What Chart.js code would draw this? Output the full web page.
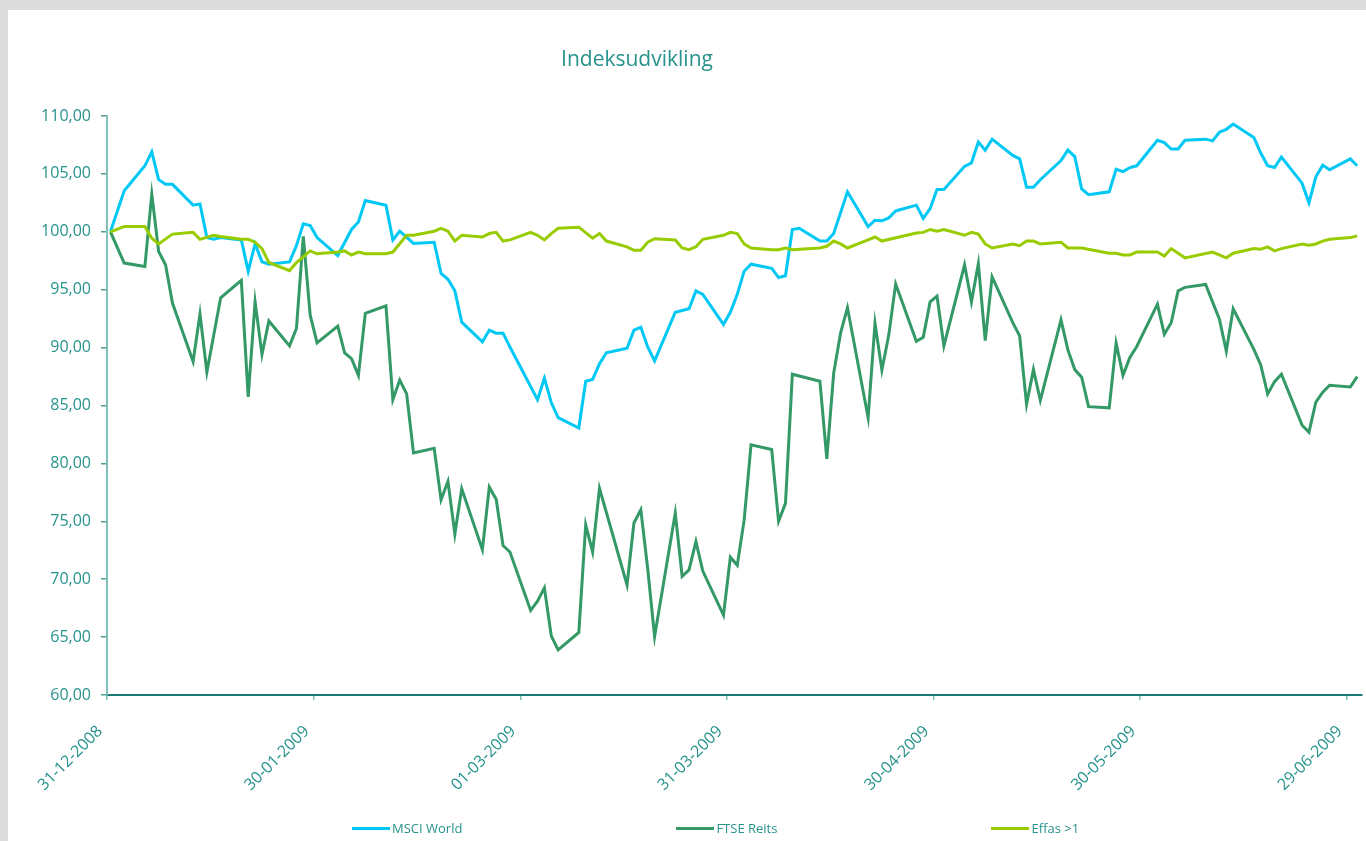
<!DOCTYPE html>
<html lang="da">
<head>
<meta charset="utf-8">
<title>Indeksudvikling</title>
<script src="https://cdn.jsdelivr.net/npm/chart.js@4.4.0/dist/chart.umd.min.js"></script>
<style>
  html, body { margin: 0; padding: 0; background: #dcdcdc; overflow: hidden; }
  #wrap { position: absolute; left: 8px; top: 10px; width: 1358px; height: 831px; background: #fff; }
  #graf { position: absolute; left: 0; top: 0; }
  #titel { position: absolute; left: 429px; top: 34px; width: 400px; text-align: center;
           font: 21px/28px "Open Sans", sans-serif; color: #26928c; }
  #legend { position: absolute; left: 344px; top: 809px; display: flex; gap: 214px;
            font: 13px "Open Sans", sans-serif; color: #26928c; }
  #legend .item { display: flex; align-items: center; white-space: nowrap; }
  #legend .line { display: inline-block; width: 38px; height: 3px; margin-right: 2px; }
</style>
</head>
<body>
<div id="wrap">
  <canvas id="graf" width="1358" height="831"></canvas>
  <div id="titel">Indeksudvikling</div>
  <div id="legend"></div>
</div>
<script>
// dage efter 31-12-2008
const tickDays = [0, 30, 60, 90, 120, 150, 180];
const tickLabels = ["31-12-2008", "30-01-2009", "01-03-2009", "31-03-2009", "30-04-2009", "30-05-2009", "29-06-2009"];

const serieNavne = ["MSCI World", "FTSE Reits", "Effas >1"];

const msciDays = [0,2,5,6,7,8,9,12,13,14,15,16,19,20,21,22,23,26,27,28,29,30,33,35,36,37,40,41,42,44,47,48,49,50,51,54,55,56,57,58,62,63,64,65,68,69,70,71,72,75,76,77,78,79,82,84,85,86,89,90,91,92,93,96,97,98,99,100,103,104,105,107,110,111,112,113,114,117,118,119,120,121,124,125,126,127,128,131,132,133,134,135,138,139,140,141,142,145,146,147,148,149,152,153,154,155,156,159,160,161,162,163,166,167,168,169,170,173,174,175,176,177,180,181];
const msciValues = [100,103.55,105.7,106.9,104.5,104.1,104.1,102.3,102.4,99.5,99.35,99.5,99.3,96.6,98.95,97.4,97.2,97.4,98.8,100.7,100.55,99.5,97.95,100.2,100.85,102.7,102.3,99.3,100.05,99.0,99.1,96.4,95.9,94.9,92.2,90.5,91.5,91.25,91.25,90.05,85.5,87.35,85.25,83.95,83.05,87.1,87.25,88.6,89.55,89.95,91.5,91.75,90.05,88.85,93.05,93.35,94.9,94.6,92.0,93.05,94.6,96.6,97.2,96.85,96.05,96.2,100.2,100.3,99.2,99.2,99.85,103.45,100.45,101.0,100.95,101.2,101.8,102.3,101.15,102.0,103.65,103.65,105.65,105.95,107.75,107.05,108.0,106.6,106.3,103.85,103.85,104.5,106.15,107.05,106.5,103.7,103.2,103.45,105.4,105.2,105.55,105.7,107.9,107.7,107.15,107.15,107.9,108.0,107.85,108.6,108.85,109.3,108.15,106.8,105.7,105.55,106.45,104.2,102.5,104.75,105.75,105.35,106.3,105.7];

const ftseDays = [0,2,5,6,7,8,9,12,13,14,16,19,20,21,22,23,26,27,28,29,30,33,34,35,36,37,40,41,42,43,44,47,48,49,50,51,54,55,56,57,58,61,62,63,64,65,68,69,70,71,75,76,77,78,79,82,83,84,85,86,89,90,91,92,93,96,97,98,99,103,104,105,106,107,110,111,112,113,114,117,118,119,120,121,124,125,126,127,128,131,132,133,134,135,138,139,140,141,142,145,146,147,148,149,152,153,154,155,156,159,160,161,162,163,166,167,168,169,170,173,174,175,176,177,180,181];
const ftseValues = [100,97.3,97.0,103.25,98.3,97.15,93.85,88.8,92.9,87.9,94.3,95.8,85.75,93.95,89.4,92.3,90.15,91.65,99.6,92.8,90.4,91.85,89.55,89.05,87.6,92.95,93.6,85.5,87.2,86.0,80.9,81.3,76.85,78.45,73.9,77.8,72.55,77.95,76.9,72.9,72.35,67.3,68.1,69.25,65.1,63.9,65.4,74.7,72.35,77.85,69.5,74.85,76.0,70.9,65.05,75.7,70.25,70.8,73.25,70.7,66.9,71.9,71.2,75.1,81.6,81.2,75.0,76.55,87.7,87.1,80.4,87.8,91.25,93.45,83.95,92.1,88.05,91.1,95.5,90.55,90.9,93.95,94.45,90.15,97.15,93.95,97.25,90.6,96.1,92.15,91.0,85.1,88.1,85.45,92.4,89.8,88.1,87.45,84.9,84.8,90.4,87.6,89.15,90.1,93.75,91.15,92.15,94.9,95.2,95.45,93.95,92.45,89.7,93.35,89.85,88.5,86.0,87.05,87.7,83.3,82.7,85.3,86.15,86.75,86.6,87.5];

const effasDays = [0,2,5,6,7,9,12,13,15,16,19,20,21,22,23,26,27,29,30,33,34,35,36,37,40,41,43,44,47,48,49,50,51,54,55,56,57,58,61,62,63,64,65,68,70,71,72,75,76,77,78,79,82,83,84,85,86,89,90,91,92,93,96,97,98,99,103,104,105,106,107,110,111,112,117,118,119,120,121,124,125,126,127,128,131,132,133,134,135,138,139,141,145,146,147,148,149,152,153,154,156,160,162,163,166,167,168,169,170,173,174,175,176,177,180,181];
const effasValues = [100,100.45,100.45,99.45,98.95,99.8,99.95,99.35,99.7,99.6,99.35,99.35,99.1,98.55,97.35,96.65,97.35,98.35,98.1,98.25,98.35,98.0,98.25,98.1,98.1,98.25,99.7,99.7,100.05,100.3,100.05,99.2,99.7,99.55,99.85,99.95,99.2,99.3,99.95,99.7,99.3,99.85,100.3,100.4,99.45,99.85,99.2,98.7,98.4,98.4,99.1,99.4,99.3,98.6,98.45,98.7,99.35,99.7,99.95,99.85,98.95,98.6,98.45,98.45,98.6,98.45,98.6,98.75,99.2,98.95,98.6,99.3,99.55,99.2,99.9,99.95,100.2,100.05,100.2,99.7,99.95,99.8,98.95,98.6,98.95,98.8,99.2,99.2,98.95,99.1,98.6,98.6,98.15,98.15,98.0,98.0,98.25,98.25,97.9,98.55,97.75,98.25,97.75,98.15,98.55,98.5,98.7,98.35,98.55,98.95,98.85,98.95,99.2,99.35,99.5,99.65];

const farver = ["#00c8f5", "#339966", "#99cc00"];
const tekstFarve = "#26928c";
const skrift = "'Open Sans', 'Noto Sans', sans-serif";

// punkterne ligger midt i dagen, som i Excel
const tilPunkter = (dage, vaerdier) => dage.map((d, i) => ({ x: d + 0.5, y: vaerdier[i] }));

const serier = [
  tilPunkter(msciDays, msciValues),
  tilPunkter(ftseDays, ftseValues),
  tilPunkter(effasDays, effasValues)
];

const ctx = document.getElementById("graf").getContext("2d");
const graf = new Chart(ctx, {
  type: "line",
  data: {
    datasets: serier.map((data, i) => ({
      label: serieNavne[i],
      data: data,
      borderColor: farver[i],
      backgroundColor: farver[i],
      borderWidth: 3,
      pointRadius: 0,
      tension: 0,
      order: 3 - i
    }))
  },
  options: {
    responsive: false,
    animation: false,
    events: [],
    layout: { padding: { left: 0, right: 4, top: 106, bottom: 0 } },
    plugins: {
      legend: { display: false },
      tooltip: { enabled: false },
      title: { display: false }
    },
    scales: {
      x: {
        type: "linear",
        min: 0,
        max: 182.2,
        afterBuildTicks: (s) => { s.ticks = tickDays.map((v) => ({ value: v })); },
        afterFit: (s) => {
          s.height = 146;
          s.paddingLeft = 0;
          s.paddingRight = 0;
        },
        ticks: {
          autoSkip: false,
          minRotation: 45,
          maxRotation: 45,
          padding: 22,
          labelOffset: -7,
          color: tekstFarve,
          font: { family: skrift, size: 16 },
          callback: (v, i) => tickLabels[i]
        },
        grid: { drawOnChartArea: false, drawTicks: true, tickLength: 5, color: "#7fbfba", lineWidth: 1.5 },
        border: { display: true, color: "#1d7a73", width: 2 }
      },
      y: {
        min: 60,
        max: 110,
        afterFit: (s) => { s.width = 99; },
        ticks: {
          stepSize: 5,
          padding: 10,
          color: tekstFarve,
          font: { family: skrift, size: 16 },
          callback: (v) => v.toFixed(2).replace(".", ",")
        },
        grid: { drawOnChartArea: false, drawTicks: true, tickLength: 6, color: "#4f9f99", lineWidth: 1.5 },
        border: { display: true, color: "#80c0bb", width: 2 }
      }
    }
  }
});

// forklaring under grafen
const legend = document.getElementById("legend");
graf.data.datasets.forEach((ds) => {
  const item = document.createElement("div");
  item.className = "item";
  const streg = document.createElement("span");
  streg.className = "line";
  streg.style.background = ds.borderColor;
  item.appendChild(streg);
  item.appendChild(document.createTextNode(ds.label));
  legend.appendChild(item);
});
</script>
</body>
</html>
